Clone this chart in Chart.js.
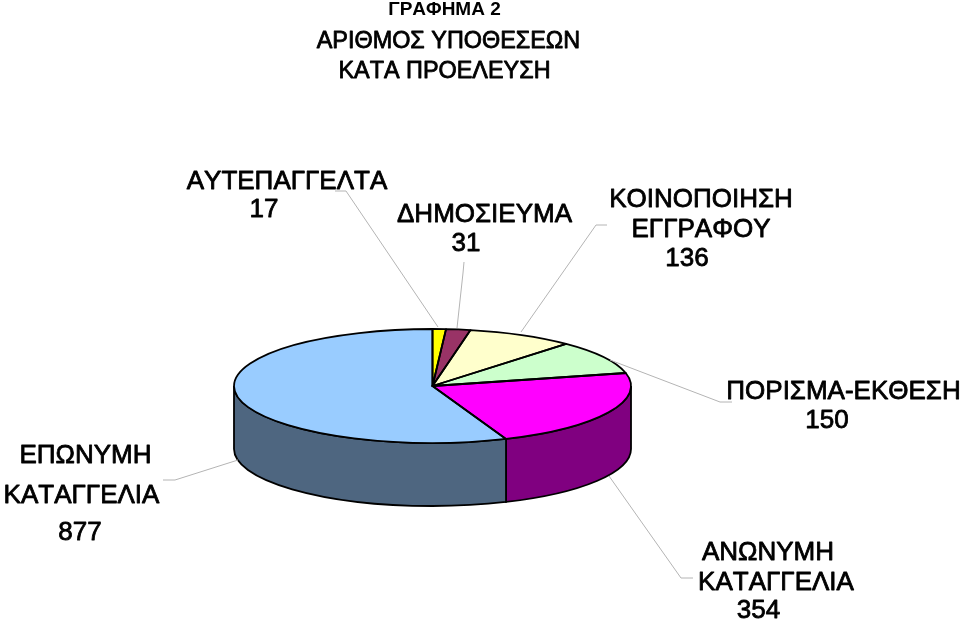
<!DOCTYPE html>
<html>
<head>
<meta charset="utf-8">
<style>
    html, body { margin: 0; padding: 0; background: #fff; }
    canvas { display: block; }
</style>
<script src="https://cdn.jsdelivr.net/npm/chart.js@4"></script>
</head>
<body>
<canvas id="pie-chart" width="960" height="621"></canvas>
<script>
let categories = ["ΑΥΤΕΠΑΓΓΕΛΤΑ", "ΔΗΜΟΣΙΕΥΜΑ", "ΚΟΙΝΟΠΟΙΗΣΗ ΕΓΓΡΑΦΟΥ", "ΠΟΡΙΣΜΑ-ΕΚΘΕΣΗ", "ΑΝΩΝΥΜΗ ΚΑΤΑΓΓΕΛΙΑ", "ΕΠΩΝΥΜΗ ΚΑΤΑΓΓΕΛΙΑ"];
let caseCounts = [17, 31, 136, 150, 354, 877];
let topColors = ["#ffff00", "#993366", "#ffffcc", "#ccffcc", "#ff00ff", "#99ccff"];
let sideColors = ["#808000", "#4d1a33", "#808066", "#668066", "#800080", "#4e6680"];

// pie squash + wall height, the library only draws round pies
let tilt = 57 / 198.5;
let depth = 63;

let fontName = '"Liberation Sans", Arial, sans-serif';

// text, center x, baseline y, size
let textRows = [
    ["ΓΡΑΦΗΜΑ 2", 444.5, 15, 19],
    ["ΑΡΙΘΜΟΣ ΥΠΟΘΕΣΕΩΝ", 448.5, 48, 23.4],
    ["ΚΑΤΑ ΠΡΟΕΛΕΥΣΗ", 444.5, 78, 23.4],
    ["ΑΥΤΕΠΑΓΓΕΛΤΑ", 287, 189, 26],
    ["17", 264, 217, 26],
    ["ΔΗΜΟΣΙΕΥΜΑ", 484.5, 222, 26],
    ["31", 466, 251, 26],
    ["ΚΟΙΝΟΠΟΙΗΣΗ", 701, 207, 26],
    ["ΕΓΓΡΑΦΟΥ", 701, 237, 26],
    ["136", 687, 266, 26],
    ["ΠΟΡΙΣΜΑ-ΕΚΘΕΣΗ", 843.5, 399, 26],
    ["150", 827, 428, 26],
    ["ΑΝΩΝΥΜΗ", 768, 560, 26],
    ["ΚΑΤΑΓΓΕΛΙΑ", 776, 590, 26],
    ["354", 758.5, 618, 26],
    ["ΕΠΩΝΥΜΗ", 85.5, 463, 26],
    ["ΚΑΤΑΓΓΕΛΙΑ", 81.5, 503, 26],
    ["877", 80, 540, 26]
];

let leaderLines = [
    [[335, 191], [346, 191], [438, 327]],
    [[464, 262], [463, 273], [457, 328]],
    [[607, 225], [596, 225], [521, 332]],
    [[732, 402], [720, 402], [610, 360]],
    [[693, 578], [681, 578], [609, 476]],
    [[163, 480], [175, 480], [238, 460]]
];

function squash(ctx, arc) {
    ctx.translate(0, arc.y);
    ctx.scale(1, tilt);
    ctx.translate(0, -arc.y);
}

let pie3d = {
    id: "pie3d",
    beforeDatasetsDraw(chart) {
        let ctx = chart.ctx;
        let arcs = chart.getDatasetMeta(0).data;

        // walls, only the front half of the ellipse shows
        ctx.save();
        ctx.lineWidth = 1.8;
        ctx.strokeStyle = "#000";
        arcs.forEach(function (arc, i) {
            let a0 = Math.max(arc.startAngle, 0);
            let a1 = Math.min(arc.endAngle, Math.PI);
            if (a1 <= a0) return;
            let rx = arc.outerRadius;
            let ry = rx * tilt;
            ctx.beginPath();
            ctx.ellipse(arc.x, arc.y, rx, ry, 0, a0, a1);
            ctx.ellipse(arc.x, arc.y + depth, rx, ry, 0, a1, a0, true);
            ctx.closePath();
            ctx.fillStyle = sideColors[i];
            ctx.fill();
            ctx.stroke();
        });
        ctx.restore();

        ctx.save();
        squash(ctx, arcs[0]);
    },
    afterDatasetsDraw(chart) {
        let ctx = chart.ctx;
        let arcs = chart.getDatasetMeta(0).data;
        ctx.restore();

        // slice outlines, path is squashed but the pen is not
        ctx.save();
        ctx.lineWidth = 1.8;
        ctx.strokeStyle = "#000";
        ctx.lineJoin = "round";
        arcs.forEach(function (arc) {
            ctx.save();
            squash(ctx, arc);
            ctx.beginPath();
            ctx.moveTo(arc.x, arc.y);
            ctx.arc(arc.x, arc.y, arc.outerRadius, arc.startAngle, arc.endAngle);
            ctx.closePath();
            ctx.restore();
            ctx.stroke();
        });
        ctx.restore();

        ctx.save();
        ctx.strokeStyle = "#b4b4b4";
        ctx.lineWidth = 1;
        leaderLines.forEach(function (pts) {
            ctx.beginPath();
            pts.forEach(function (p, i) {
                if (i == 0) ctx.moveTo(p[0], p[1]);
                else ctx.lineTo(p[0], p[1]);
            });
            ctx.stroke();
        });

        // no kerning and a thin stroke, the original labels are heavier
        ctx.fillStyle = "#000";
        ctx.strokeStyle = "#000";
        ctx.lineWidth = 0.8;
        ctx.lineJoin = "round";
        ctx.textAlign = "center";
        ctx.textBaseline = "alphabetic";
        ctx.fontKerning = "none";
        textRows.forEach(function (row) {
            let small = row[3] < 20;
            ctx.font = (small ? "bold " : "") + row[3] + "px " + fontName;
            ctx.fillText(row[0], row[1], row[2]);
            if (!small) ctx.strokeText(row[0], row[1], row[2]);
        });
        ctx.restore();
    }
};

let pieChart = new Chart(document.getElementById("pie-chart"), {
    type: "pie",
    data: {
        labels: categories,
        datasets: [{
            data: caseCounts,
            backgroundColor: topColors,
            borderWidth: 0
        }]
    },
    options: {
        responsive: false,
        animation: false,
        devicePixelRatio: 1,
        layout: {
            padding: { left: 234, right: 329, top: 187.5, bottom: 36.5 }
        },
        plugins: {
            legend: { display: false },
            tooltip: { enabled: false }
        }
    },
    plugins: [pie3d]
});
</script>
</body>
</html>
